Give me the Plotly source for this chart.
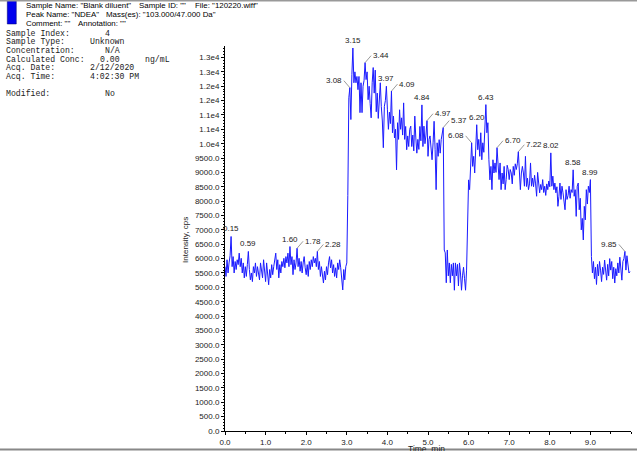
import numpy as np
import plotly.graph_objects as go

# ---------------- data ----------------
dt_min = 0.025  # sampling interval of the trace (min)
intensity = [
    5720, 5380, 5960, 5500, 5850, 6100, 6770, 5720, 6070, 5500,
    5900, 5620, 5960, 5790, 6190, 5720, 6010, 5500, 5850, 5330,
    5720, 5380, 5790, 6250, 5620, 5260, 5500, 5200, 5720, 5500,
    5850, 5380, 5720, 5440, 5260, 5850, 5620, 5330, 5960, 5500,
    5200, 5850, 5500, 5090, 5620, 5330, 5790, 5440, 5720, 5900,
    6190, 5620, 5960, 5330, 5790, 5500, 5900, 5720, 6010, 5680,
    6070, 5850, 6190, 5720, 6420, 5790, 6070, 5440, 5960, 5620,
    5850, 6360, 5720, 6010, 5560, 5900, 5500, 5850, 6070, 5680,
    5440, 5790, 5380, 5900, 5620, 5960, 5720, 6070, 5850, 6010,
    5720, 6250, 5620, 5900, 5380, 5720, 5440, 5150, 5560, 5260,
    5720, 5440, 5850, 6070, 5680, 5960, 5500, 5790, 5380, 5680,
    5330, 5850, 5620, 5960, 5680, 5150, 4910, 5620, 5260, 5720,
    5850, 8200, 11600, 11950, 10840, 12400, 13330, 12120, 12500, 12120,
    12340, 11880, 12340, 11080, 12120, 11080, 12000, 12200, 12820, 12230,
    12500, 11530, 12000, 11400, 10900, 12120, 12650, 11760, 12560, 11110,
    11760, 10880, 11500, 12120, 11300, 10790, 9860, 11300, 11500, 12000,
    11200, 10500, 11100, 10700, 11830, 10380, 10960, 10200, 10500, 9090,
    10730, 10150, 11180, 10500, 10900, 10300, 11420, 10150, 10600, 9790,
    10270, 9900, 10500, 10610, 9900, 10300, 9750, 10960, 10200, 9670,
    10150, 9800, 10600, 10100, 11350, 9900, 10610, 10000, 10300, 10800,
    9560, 10150, 10270, 9700, 9440, 10030, 10780, 9790, 8400, 10030,
    9560, 10140, 9670, 10140, 10380, 10560, 6300, 6200, 5160, 6300,
    5400, 5850, 5160, 5800, 5400, 5850, 4900, 5850, 5400, 5800,
    5050, 5850, 5500, 4900, 5400, 5700, 5300, 4900, 5600, 7940,
    8740, 8400, 9560, 10030, 9210, 9560, 8980, 9900, 10660, 9790,
    10150, 9560, 10380, 9440, 10030, 9700, 10500, 11360, 10380, 10730,
    9440, 8740, 9210, 8400, 9440, 8980, 9330, 9000, 9860, 9100,
    8750, 9330, 8400, 8980, 8600, 9210, 8400, 8750, 9250, 9100,
    8750, 9100, 8980, 8600, 9210, 8900, 9300, 9100, 9300, 9720,
    9100, 8400, 8980, 9210, 8980, 8520, 9560, 8510, 8800, 8400,
    8600, 9330, 8520, 8800, 8500, 8900, 8600, 8170, 9000, 8520,
    8290, 8580, 8400, 8750, 8300, 8520, 8200, 8600, 8400, 8700,
    8500, 9680, 8520, 8870, 8400, 8630, 8290, 8500, 7820, 8170,
    8630, 8060, 8520, 8290, 8000, 7700, 8400, 8060, 8200, 8520,
    8100, 8400, 8300, 9090, 8170, 8400, 7470, 8520, 8630, 7700,
    8100, 7000, 7400, 6650, 7820, 7350, 8400, 7900, 8520, 8300,
    8750, 6070, 5500, 5900, 5300, 5700, 5100, 5800, 5400, 5900,
    5600, 5200, 5700, 5450, 5950, 5500, 5250, 5800, 5400, 6000,
    5600, 5900, 5300, 5700, 5150, 5650, 5400, 5850, 5500, 6050,
    5700, 5250, 5900, 6000, 6250, 5600, 6100, 5700, 5500, 5550,
]
time_min = np.arange(len(intensity)) * dt_min

peak_labels = ["0.15", "0.59", "1.60", "1.78", "2.28", "3.08", "3.15", "3.44",
               "3.97", "4.09", "4.84", "4.97", "5.37", "6.08", "6.20", "6.43",
               "6.70", "7.22", "8.02", "8.58", "8.99", "9.85"]
# label offset style: 'c' centred above, 'r' leader to upper-right, 'l' leader to upper-left
peak_style = ["c", "c", "c", "r", "r", "l", "c", "r",
              "c", "r", "c", "r", "r", "l", "c", "c",
              "r", "r", "c", "c", "c", "l"]

ytick_vals = list(range(0, 13001, 500))
ytick_labels = ["0.0", "500.0", "1000.0", "1500.0", "2000.0", "2500.0", "3000.0",
                "3500.0", "4000.0", "4500.0", "5000.0", "5500.0", "6000.0", "6500.0",
                "7000.0", "7500.0", "8000.0", "8500.0", "9000.0", "9500.0", "1.0e4",
                "1.1e4", "1.1e4", "1.2e4", "1.2e4", "1.3e4", "1.3e4"]
xtick_vals = list(range(0, 10))
xtick_labels = ["%.1f" % v for v in xtick_vals]

header_rows = [
    [(24, 'Sample Name: "Blank diluent"'), (137, 'Sample ID: ""'), (193, 'File: "120220.wiff"')],
    [(24, 'Peak Name: "NDEA"'), (104, 'Mass(es): "103.000/47.000 Da"')],
    [(24, 'Comment: ""'), (76, 'Annotation: ""')],
]
info_labels = ["Sample Index:", "Sample Type:", "Concentration:", "Calculated Conc:",
               "Acq. Date:", "Acq. Time:", "", "Modified:"]
info_values = ["4", "Unknown", "N/A", "0.00", "2/12/2020", "4:02:30 PM", "", "No"]
info_value_col = [20, 17, 20, 19, 17, 17, 0, 20]
conc_unit = "ng/mL"

# ---------------- layout geometry ----------------
W, H = 637, 451
L, R, T, B = 225, 6.4, 46, 20
PW, PH = W - L - R, H - T - B


def px(x):
    return (x - L) / PW


def py(y):
    return (H - B - y) / PH


fig = go.Figure()
fig.add_trace(go.Scatter(x=time_min, y=intensity, mode="lines",
                         line=dict(color="#1a1aff", width=1), hoverinfo="skip"))

ann = []
lab_font = dict(family="Arial, Liberation Sans", size=8, color="#222")
t_arr = np.asarray(time_min)
i_arr = np.asarray(intensity)
for lab, st in zip(peak_labels, peak_style):
    tp = float(lab)
    m = np.abs(t_arr - tp) <= 0.03
    k = np.argmax(np.where(m, i_arr, -1))
    xp, yp = t_arr[k], i_arr[k]
    if st == "c":
        ann.append(dict(x=xp, y=yp, text=lab, showarrow=False, yanchor="bottom",
                        yshift=1, font=lab_font))
    elif st == "r":
        ann.append(dict(x=xp, y=yp, text=lab, showarrow=True, arrowhead=0,
                        arrowwidth=0.6, arrowcolor="#555", ax=6, ay=-7,
                        xanchor="left", yanchor="middle", font=lab_font))
    else:
        ann.append(dict(x=xp, y=yp, text=lab, showarrow=True, arrowhead=0,
                        arrowwidth=0.6, arrowcolor="#555", ax=-6, ay=-7,
                        xanchor="right", yanchor="middle", font=lab_font))

hdr_font = dict(family="Arial, Liberation Sans", size=7.9, color="#000")
for r, row in enumerate(header_rows):
    for xx, txt in row:
        ann.append(dict(xref="paper", yref="paper", x=px(xx), y=py(5 + 9.3 * r),
                        text=txt, showarrow=False, xanchor="left", yanchor="middle",
                        font=hdr_font))

mono = dict(family="Liberation Mono, Courier New, monospace", size=8.2, color="#222")
cw = 4.95
for r, (lab, val, col) in enumerate(zip(info_labels, info_values, info_value_col)):
    yy = 33 + 8.7 * r
    if lab:
        ann.append(dict(xref="paper", yref="paper", x=px(4), y=py(yy), text=lab,
                        showarrow=False, xanchor="left", yanchor="middle", font=mono))
    if val:
        ann.append(dict(xref="paper", yref="paper", x=px(4 + cw * col), y=py(yy), text=val,
                        showarrow=False, xanchor="left", yanchor="middle", font=mono))
ann.append(dict(xref="paper", yref="paper", x=px(4 + cw * 28), y=py(33 + 8.7 * 3),
                text=conc_unit, showarrow=False, xanchor="left", yanchor="middle", font=mono))

ann.append(dict(xref="paper", yref="paper", x=px(186), y=py(240), text="Intensity, cps",
                textangle=-90, showarrow=False, xanchor="center", yanchor="middle",
                font=dict(family="Arial, Liberation Sans", size=8, color="#222")))
ann.append(dict(xref="paper", yref="paper", x=px(426), y=py(449), text="Time, min",
                showarrow=False, xanchor="center", yanchor="middle",
                font=dict(family="Arial, Liberation Sans", size=8.5, color="#222")))

shapes = [
    dict(type="rect", xref="paper", yref="paper", x0=px(7.5), x1=px(16.5), y0=py(24), y1=py(-2),
         fillcolor="#0000ee", line=dict(color="#000066", width=0.5)),
    dict(type="line", xref="paper", yref="paper", x0=px(0), x1=px(W), y0=py(0.7), y1=py(0.7),
         line=dict(color="#999", width=1.5)),
    dict(type="line", xref="paper", yref="paper", x0=px(0), x1=px(W), y0=py(449.5), y1=py(449.5),
         line=dict(color="#888", width=2)),
]

tick_font = dict(family="Arial, Liberation Sans", size=8, color="#222")
fig.update_layout(
    width=W, height=H, margin=dict(l=L, r=R, t=T, b=B, autoexpand=False),
    paper_bgcolor="white", plot_bgcolor="white", showlegend=False,
    annotations=ann, shapes=shapes,
    xaxis=dict(range=[0, 10], tickvals=xtick_vals, ticktext=xtick_labels,
               showgrid=False, zeroline=False, showline=True, linecolor="#000",
               linewidth=1, ticks="outside", ticklen=3, tickcolor="#000",
               tickfont=tick_font,
               minor=dict(dtick=0.5, ticks="outside", ticklen=2, tickcolor="#000")),
    yaxis=dict(range=[0, 13400], tickvals=ytick_vals, ticktext=ytick_labels,
               showgrid=False, zeroline=False, showline=True, linecolor="#000",
               linewidth=1, ticks="outside", ticklen=3, tickcolor="#000",
               tickfont=tick_font,
               minor=dict(tickvals=list(range(100, 13400, 100)), ticks="outside",
                          ticklen=1.5, tickcolor="#000")),
)
fig.write_html("out.html", config={"displayModeBar": False},
               post_script="document.body.style.margin='0';document.body.style.overflow='hidden';")
